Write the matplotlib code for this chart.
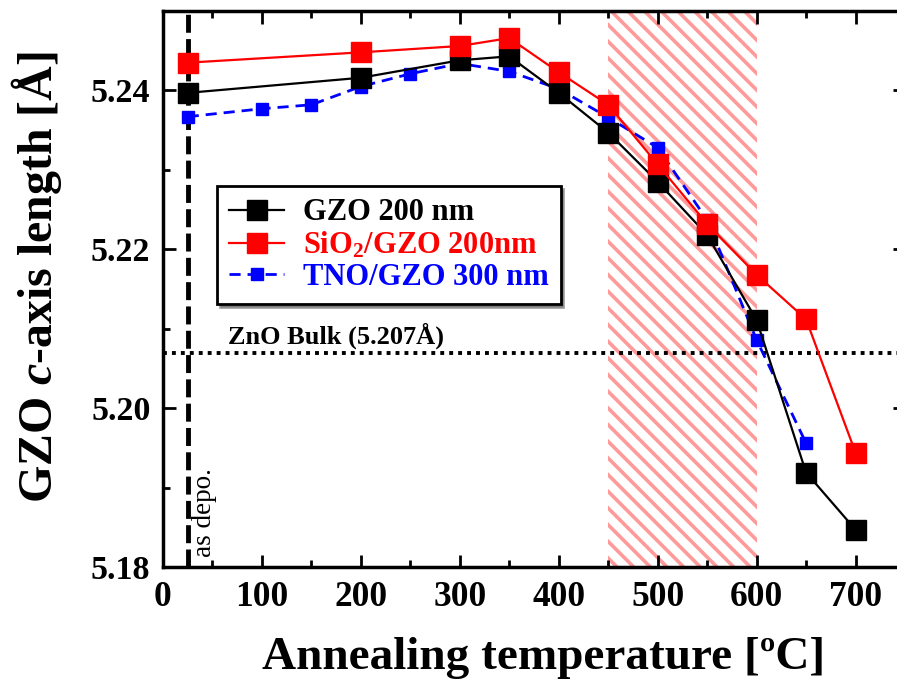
import matplotlib
matplotlib.use('Agg')
import matplotlib.pyplot as plt
from matplotlib.ticker import MultipleLocator

# datos (temperatura en C, eje c en Angstrom)
t_gzo = [25, 200, 300, 350, 400, 450, 500, 550, 600, 650, 700]
c_gzo = [5.2397, 5.2416, 5.2438, 5.2443, 5.2397, 5.2347, 5.2285, 5.2218, 5.2111, 5.1919, 5.1847]

t_sio2 = [25, 200, 300, 350, 400, 450, 500, 550, 600, 650, 700]
c_sio2 = [5.2435, 5.2448, 5.2456, 5.2466, 5.2423, 5.2382, 5.2307, 5.2232, 5.2168, 5.2112, 5.1944]

t_tno = [25, 100, 150, 200, 250, 300, 350, 400, 450, 500, 550, 600, 650]
c_tno = [5.2367, 5.2377, 5.2382, 5.2405, 5.2421, 5.2434, 5.2424, 5.2402, 5.2366, 5.2328, 5.2237, 5.2086, 5.1956]

labels = ['GZO 200 nm', 'SiO$_2$/GZO 200nm', 'TNO/GZO 300 nm']
zno_bulk = 5.207
as_depo = 25
zona = (450, 600)

plt.rcParams['font.family'] = 'Liberation Serif'
plt.rcParams['font.weight'] = 'bold'
plt.rcParams['mathtext.fontset'] = 'custom'
plt.rcParams['mathtext.rm'] = 'Liberation Serif:bold'
plt.rcParams['mathtext.bf'] = 'Liberation Serif:bold'
plt.rcParams['mathtext.it'] = 'Liberation Serif:italic:bold'
plt.rcParams['mathtext.default'] = 'bf'
plt.rcParams['hatch.linewidth'] = 2.6

fig = plt.figure(figsize=(8.97, 6.82), dpi=100)
ax = fig.add_axes([0.1817, 0.1686, 0.8272, 0.8152])

#
# zona rayada
#
ax.axvspan(zona[0], zona[1], facecolor='none', edgecolor='#ff9a9a', hatch='\\\\',
           linewidth=0, zorder=0)

ax.axvline(as_depo, color='k', lw=3.5, dashes=(3.7, 1.3), zorder=1)
ax.axhline(zno_bulk, color='k', lw=2.8, dashes=(1, 1.3), zorder=1)

ax.plot(t_tno, c_tno, color='b', lw=2, dashes=(4, 2.5), marker='s', ms=8,
        mec='b', mfc='b', label=labels[2], zorder=3)
ax.plot(t_gzo, c_gzo, color='k', lw=1.6, marker='s', ms=14.5,
        mec='k', mfc='k', label=labels[0], zorder=4)
ax.plot(t_sio2, c_sio2, color='r', lw=1.6, marker='s', ms=14.5,
        mec='r', mfc='r', label=labels[1], zorder=5)

ax.text(66, zno_bulk + 0.0005, 'ZnO Bulk (5.207Å)', fontsize=19, fontweight='bold',
        ha='left', va='bottom')
ax.text(42, 5.1812, 'as depo.', fontsize=19.5, fontweight='normal', rotation=90,
        ha='center', va='bottom')

ax.set_xlim(0, 750)
ax.set_ylim(5.18, 5.25)
ax.xaxis.set_major_locator(MultipleLocator(100))
ax.xaxis.set_minor_locator(MultipleLocator(50))
ax.yaxis.set_major_locator(MultipleLocator(0.02))
ax.yaxis.set_minor_locator(MultipleLocator(0.01))
ax.yaxis.set_major_formatter(plt.FormatStrFormatter('%.2f'))
ax.tick_params(which='both', direction='in', top=True, right=True, width=2)
ax.tick_params(which='major', length=9)
ax.tick_params(which='minor', length=5)
ax.tick_params(axis='x', labelsize=25.5, pad=10)
ax.tick_params(axis='y', labelsize=24.5, pad=9)
for s in ax.spines.values():
    s.set_linewidth(2.5)

ax.set_xlabel('Annealing temperature [ºC]', fontsize=34, fontweight='bold')
ax.xaxis.set_label_coords(0.513, -0.125)
ax.set_ylabel('GZO $\\mathit{c}$-axis length [Å]', fontsize=34.5, fontweight='bold')
ax.yaxis.set_label_coords(-0.133, 0.522)

h, l = ax.get_legend_handles_labels()
orden = [1, 2, 0]
leg = ax.legend([h[i] for i in orden], [l[i] for i in orden], loc='upper left',
                bbox_to_anchor=(0.0728, 0.685), borderaxespad=0, fancybox=False,
                shadow=True, fontsize=22, handlelength=1.8, handletextpad=0.6,
                labelspacing=0.08, borderpad=0.4, framealpha=1)
leg.get_frame().set_edgecolor('k')
leg.get_frame().set_linewidth(2)
for txt, col in zip(leg.get_texts(), ['k', 'r', 'b']):
    txt.set_color(col)

fig.savefig('out.png', dpi=100)
